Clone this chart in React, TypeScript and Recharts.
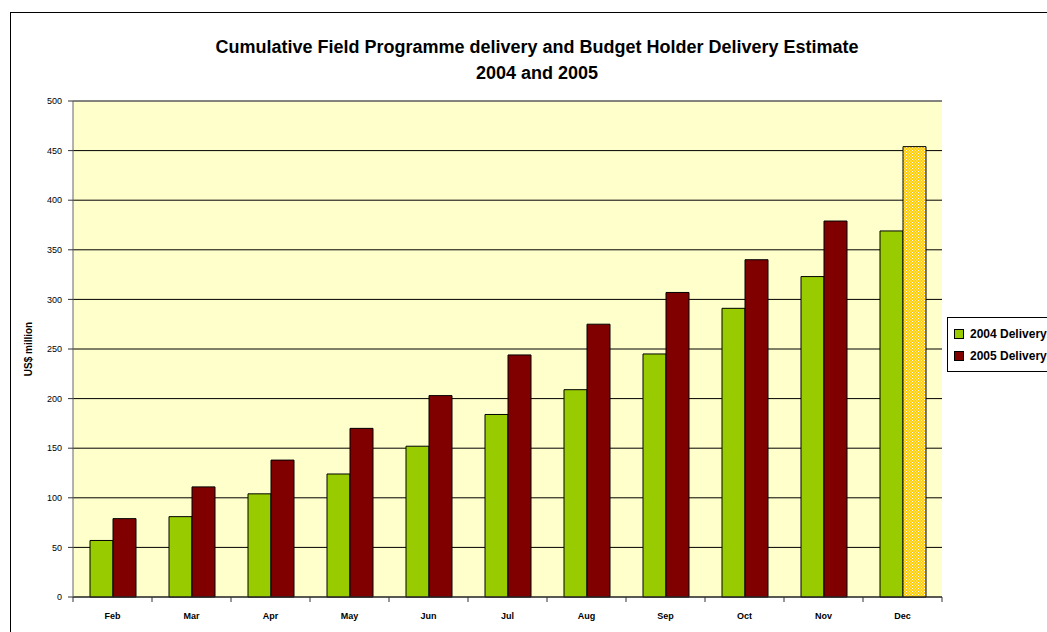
import React from 'react';
import { BarChart, Bar, XAxis, YAxis, CartesianGrid, Cell, ReferenceLine } from 'recharts';

const months = ['Feb', 'Mar', 'Apr', 'May', 'Jun', 'Jul', 'Aug', 'Sep', 'Oct', 'Nov', 'Dec'];
const delivery2004 = [57, 81, 104, 124, 152, 184, 209, 245, 291, 323, 369];
const delivery2005 = [79, 111, 138, 170, 203, 244, 275, 307, 340, 379, 454];
const yTicks = [0, 50, 100, 150, 200, 250, 300, 350, 400, 450, 500];
const estimateMonth = 'Dec';

const legendItems = [
  { label: '2004 Delivery', color: '#99CC00' },
  { label: '2005 Delivery', color: '#800000' },
];

const data = months.map((m, i) => ({ month: m, d2004: delivery2004[i], d2005: delivery2005[i] }));

const FONT = '"Liberation Sans", Arial, sans-serif';

const LegendBox = () => (
  <div
    style={{
      position: 'absolute',
      left: 947,
      top: 317,
      border: '1px solid #000',
      background: '#fff',
      padding: '5px 0 4px 6px',
      width: 130,
      fontFamily: FONT,
      fontWeight: 'bold',
      fontSize: 12,
      color: '#000',
    }}
  >
    {legendItems.map((it) => (
      <div key={it.label} style={{ display: 'flex', alignItems: 'center', height: 22, whiteSpace: 'nowrap' }}>
        <span
          style={{
            display: 'inline-block',
            width: 8,
            height: 8,
            background: it.color,
            border: '1px solid #000',
            marginRight: 6,
          }}
        />
        {it.label}
      </div>
    ))}
  </div>
);

const MonthTick = (props: any) => {
  const { x, y, payload, index, visibleTicksCount } = props;
  const half = payload && payload.offset ? payload.offset : 0;
  const isLast = index === visibleTicksCount - 1;
  return (
    <g>
      <line x1={x - half} x2={x - half} y1={y - 8} y2={y - 3} stroke="#333" />
      {isLast && <line x1={x + half} x2={x + half} y1={y - 8} y2={y - 3} stroke="#333" />}
      <text
        x={x}
        y={y + 14}
        textAnchor="middle"
        style={{ fontFamily: FONT, fontSize: 9, fontWeight: 'bold', fill: '#000' }}
      >
        {payload.value}
      </text>
    </g>
  );
};

export default function App() {
  return (
    <div style={{ position: 'absolute', left: 0, top: 0, width: 1047, height: 632, overflow: 'hidden', background: '#fff' }}>
      <svg width={0} height={0} style={{ position: 'absolute' }}>
        <defs>
          <pattern id="checker" width={3} height={3} patternUnits="userSpaceOnUse">
            <rect x={0} y={0} width={3} height={3} fill="#FFCC00" />
            <rect x={0} y={0} width={1} height={1} fill="#FFFFFF" />
            <rect x={1.5} y={1.5} width={1} height={1} fill="#FFFFFF" />
          </pattern>
        </defs>
      </svg>
      <div
        style={{
          position: 'absolute',
          left: 10,
          top: 12,
          width: 1100,
          height: 700,
          border: '1px solid #000',
          boxSizing: 'border-box',
        }}
      />
      <div
        style={{
          position: 'absolute',
          left: 0,
          top: 34,
          width: 1074,
          textAlign: 'center',
          fontFamily: FONT,
          fontWeight: 'bold',
          fontSize: 18,
          lineHeight: '26px',
          color: '#000',
        }}
      >
        <div>Cumulative Field Programme delivery and Budget Holder Delivery Estimate</div>
        <div>2004 and 2005</div>
      </div>
      <div
        style={{
          position: 'absolute',
          left: 719,
          top: 120,
          fontFamily: FONT,
          fontWeight: 'bold',
          fontSize: 12,
          color: '#000',
          whiteSpace: 'nowrap',
        }}
      >
        Estimate for December 2005
      </div>
      <div style={{ position: 'absolute', left: 0, top: 0 }}>
        <BarChart
          width={1047}
          height={632}
          data={data}
          margin={{ top: 101, right: 105, bottom: 0, left: 0 }}
          barGap={0}
          barSize={23}
        >
          <CartesianGrid vertical={false} stroke="#000" fill="#FFFFCC" strokeWidth={1} />
          <XAxis
            dataKey="month"
            tickLine={false}
            axisLine={{ stroke: '#333' }}
            height={35}
            interval={0}
            tick={<MonthTick />}
          />
          <YAxis
            domain={[0, 500]}
            ticks={yTicks}
            width={73}
            tickSize={5}
            tickMargin={6}
            interval={0}
            axisLine={{ stroke: '#666' }}
            tickLine={{ stroke: '#333' }}
            tick={{ fontFamily: FONT, fontSize: 9, fill: '#000' }}
            label={{
              value: 'US$ million',
              angle: -90,
              position: 'center',
              dx: -8,
              style: { fontFamily: FONT, fontSize: 10, fontWeight: 'bold', fill: '#000' },
            }}
          />
          <YAxis
            yAxisId="r"
            orientation="right"
            domain={[0, 500]}
            width={0}
            tick={false}
            tickLine={false}
            axisLine={{ stroke: '#999' }}
          />
          <ReferenceLine y={500} stroke="#888" />
          <Bar
            dataKey="d2004"
            name="2004 Delivery"
            fill="#99CC00"
            stroke="#000"
            strokeWidth={1}
            isAnimationActive={false}
          />
          <Bar
            dataKey="d2005"
            name="2005 Delivery"
            fill="#800000"
            stroke="#000"
            strokeWidth={1}
            isAnimationActive={false}
          >
            {data.map((d) => (
              <Cell key={d.month} fill={d.month === estimateMonth ? 'url(#checker)' : '#800000'} />
            ))}
          </Bar>
        </BarChart>
      </div>
      <LegendBox />
    </div>
  );
}
